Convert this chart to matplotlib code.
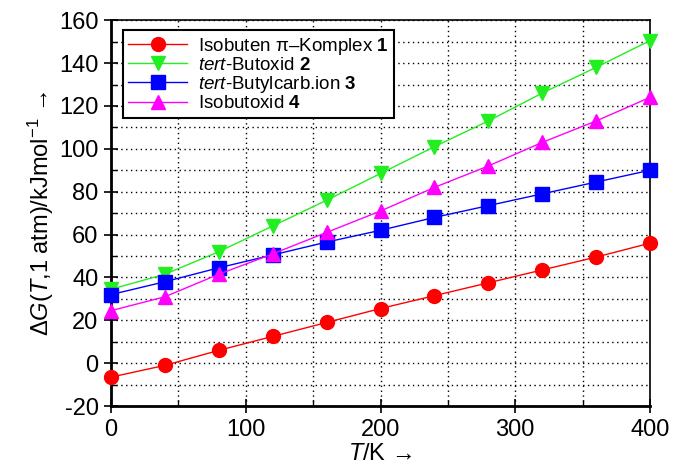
import numpy as np
import matplotlib
matplotlib.use('Agg')
import matplotlib.pyplot as plt
from matplotlib.ticker import MultipleLocator

plt.rcParams['font.family'] = ['Liberation Sans', 'DejaVu Sans']
plt.rcParams['mathtext.fontset'] = 'custom'
plt.rcParams['mathtext.rm'] = 'Liberation Sans'
plt.rcParams['mathtext.it'] = 'Liberation Sans:italic'
plt.rcParams['mathtext.bf'] = 'Liberation Sans:bold'
plt.rcParams['axes.unicode_minus'] = False

# Data
temperature = [0, 40, 80, 120, 160, 200, 240, 280, 320, 360, 400]
komplex_1 = [-6.5, -1, 6, 12.5, 19, 25.5, 31.5, 37.5, 43.5, 49.5, 56]
butoxid_2 = [34.5, 41.5, 52, 64, 76, 88.5, 101, 113, 126, 138, 150.5]
carbion_3 = [32, 38, 44.5, 50.5, 56.5, 62, 68, 73.5, 79, 84.5, 90]
isobutoxid_4 = [24.5, 31, 41.5, 51, 61, 71, 82, 92, 103, 113, 124]

labels = [r'Isobuten π–Komplex $\mathbf{1}$',
          r'$\mathit{tert}$-Butoxid $\mathbf{2}$',
          r'$\mathit{tert}$-Butylcarb.ion $\mathbf{3}$',
          r'Isobutoxid $\mathbf{4}$']

fig = plt.figure(figsize=(6.74, 4.70), dpi=100)
ax = fig.add_axes([0.1647, 0.136, 0.7997, 0.821])

series = [(komplex_1, '#ff0000', 'o'),
          (butoxid_2, '#22ee22', 'v'),
          (carbion_3, '#0000ff', 's'),
          (isobutoxid_4, '#ff00ff', '^')]
for (vals, col, mk), lab in zip(series, labels):
    ax.plot(temperature, vals, color=col, marker=mk, markersize=10 if mk != 's' else 9.5,
            linewidth=1, label=lab, clip_on=False, zorder=3)

ax.set_xlim(0, 400)
ax.set_ylim(-20, 160)
ax.xaxis.set_major_locator(MultipleLocator(100))
ax.xaxis.set_minor_locator(MultipleLocator(50))
ax.yaxis.set_major_locator(MultipleLocator(20))
ax.yaxis.set_minor_locator(MultipleLocator(10))
ax.grid(True, which='both', linestyle=(0, (1, 2.5)), color='black', linewidth=1)
ax.set_axisbelow(True)

ax.tick_params(which='major', direction='inout', length=10, width=1.2, labelsize=17,
               top=False, right=False, pad=4)
ax.tick_params(which='minor', direction='in', length=4, width=1, top=False, right=False)
for s in ['left', 'bottom']:
    ax.spines[s].set_linewidth(2)
for s in ['top', 'right']:
    ax.spines[s].set_linewidth(1.2)

ax.set_xlabel(r'$T$/K →', fontsize=17, labelpad=2)
ax.set_ylabel(r'Δ$G$($T$,1 atm)/kJmol$^{\mathregular{-1}}$ →', fontsize=17, labelpad=2)

leg = ax.legend(loc='upper left', bbox_to_anchor=(0.022, 0.974), fontsize=13.5,
                frameon=True, fancybox=False, framealpha=1, edgecolor='black',
                handlelength=3.1, borderpad=0.3, labelspacing=0.0, handletextpad=0.6,
                borderaxespad=0)
leg.get_frame().set_linewidth(1.5)

fig.savefig('out.png', dpi=100)
